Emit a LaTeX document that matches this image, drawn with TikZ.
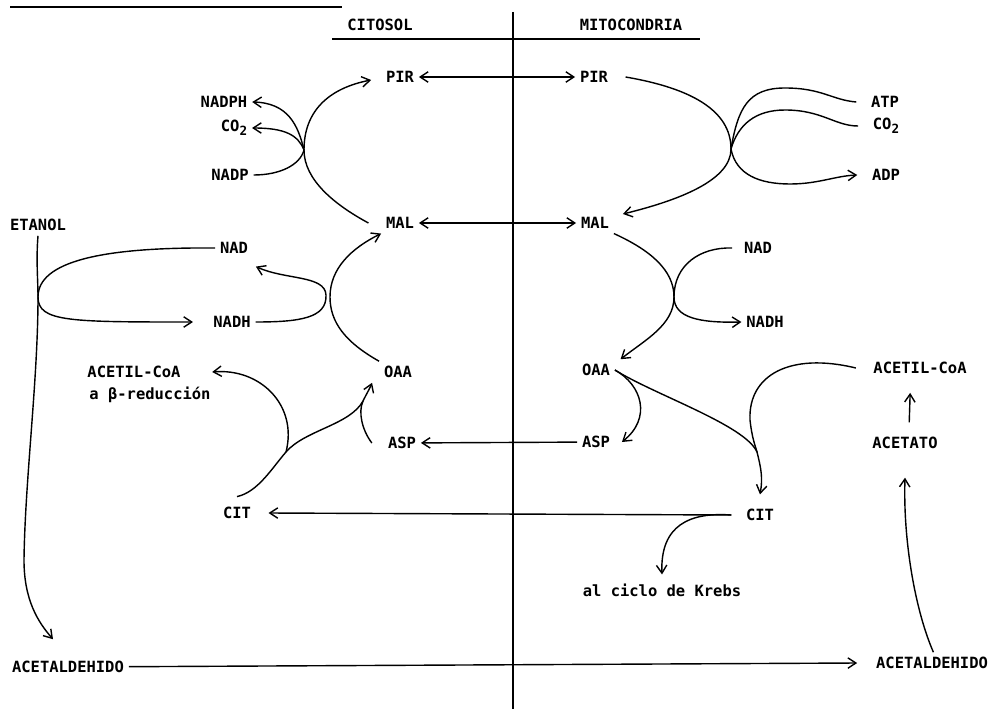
\documentclass[tikz,border=0pt]{standalone}
\usepackage{fontspec}
\setmonofont{DejaVu Sans Mono}
\usetikzlibrary{arrows.meta}
\newcommand{\cotwo}{CO\raisebox{-0.45ex}{\small 2}}

\begin{document}
\begin{tikzpicture}[x=0.025cm,y=-0.025cm,line width=1pt,
  >={Straight Barb[length=2mm,width=2.6mm]},
  every node/.style={font=\ttfamily\bfseries\fontsize{11}{13}\selectfont,inner sep=3pt}]
  \useasboundingbox (0,0) rectangle (992,709);
  % compartimentos
  \draw (10,7) -- (342,7);
  \draw (332,39) -- (700,39);
  \draw (513,12) -- (513,709);
  \node (citosol) at (380,25) {CITOSOL};
  \node (mito) at (631,25) {MITOCONDRIA};
  % metabolitos
  \node (pirC) at (400,77) {PIR};
  \node (pirM) at (594,77) {PIR};
  \node (nadphC) at (224,102) {NADPH};
  \node (co2C) at (234,128) {\cotwo};
  \node (nadpC) at (230,175) {NADP};
  \node (atpM) at (885,102) {ATP};
  \node (co2M) at (886,126) {\cotwo};
  \node (adpM) at (886,175) {ADP};
  \node (malC) at (400,223) {MAL};
  \node (malM) at (595,223) {MAL};
  \node (etanol) at (38,225) {ETANOL};
  \node (nadC) at (234,248) {NAD};
  \node (nadhC) at (232,322) {NADH};
  \node (nadM) at (758,248) {NAD};
  \node (nadhM) at (765,322) {NADH};
  \node (acetC) at (134,372) {ACETIL-CoA};
  \node (betaC) at (150,395) {a β-reducción};
  \node (oaaC) at (398,372) {OAA};
  \node (oaaM) at (596,370) {OAA};
  \node (acetM) at (920,368) {ACETIL-CoA};
  \node (aspC) at (402,443) {ASP};
  \node (aspM) at (596,442) {ASP};
  \node (acetato) at (905,443) {ACETATO};
  \node (citC) at (237,513) {CIT};
  \node (citM) at (760,515) {CIT};
  \node (krebs) at (662,590) {al ciclo de Krebs};
  \node (aldC) at (68,667) {ACETALDEHIDO};
  \node (aldM) at (932,663) {ACETALDEHIDO};
  % puntos de cruce
  \coordinate (xPM) at (304,150);
  \coordinate (xPE) at (731,149);
  \coordinate (xEt) at (38,297);
  \coordinate (xMD) at (674,297);
  \coordinate (xCi) at (286,452);
  \coordinate (xAs) at (363,401);
  \coordinate (xCs) at (757,452);
  % transporte
  \draw[<->] (pirC) -- (pirM);
  \draw[<->] (malC) -- (malM);
  \draw[->] (aspM) -- (aspC);
  \draw[->] ([xshift=-7pt]citM.west) -- ([xshift=9pt]citC.east);
  \draw[->] (aldC) -- ([xshift=-10pt]aldM.west);
  % enzima malica
  \draw[->] ([xshift=-9pt]malC.west) .. controls (335,205) and (304,180) .. (xPM)
    .. controls (304,110) and (330,88) .. ([shift={(-10,3)}]pirC.west);
  \draw (nadpC.east) .. controls (280,175) and (300,165) .. (xPM);
  \draw[->] (xPM) .. controls (298,125) and (288,103) .. (nadphC.east);
  \draw[->] (xPM) .. controls (298,135) and (285,128) .. (co2C.east);
  % piruvato carboxilasa
  \draw[->] ([xshift=9pt]pirM.east) .. controls (690,88) and (731,110) .. (xPE)
    .. controls (731,180) and (680,200) .. ([shift={(9,-9)}]malM.east);
  \draw (xPE) .. controls (738,108) and (748,88) .. (785,88)
    .. controls (822,88) and (832,100) .. ([xshift=-7pt]atpM.west);
  \draw (xPE) .. controls (738,125) and (755,110) .. (785,110)
    .. controls (822,110) and (835,126) .. ([xshift=-7pt]co2M.west);
  \draw[->] (xPE) .. controls (736,175) and (760,184) .. (790,184)
    .. controls (818,184) and (835,176) .. ([xshift=-7pt]adpM.west);
  % etanol
  \draw[->] (etanol.south) .. controls (36,260) and (38,280) .. (xEt)
    .. controls (38,380) and (25,480) .. (24,560)
    .. controls (24,600) and (38,622) .. ([shift={(-15,-17)}]aldC.north);
  \draw[->] (nadC.west) .. controls (100,247) and (38,262) .. (xEt)
    .. controls (38,322) and (70,322) .. ([xshift=-11pt]nadhC.west);
  \draw[->] (nadhC.east) .. controls (300,322) and (327,318) .. (326,295)
    .. controls (325,275) and (285,280) .. ([shift={(3,8)}]nadC.south east);
  \draw[->] (oaaC.north west) .. controls (345,342) and (330,322) .. (330,297)
    .. controls (330,268) and (352,248) .. (malC.south west);
  % citrato y aspartato (citosol)
  \draw[->] ([yshift=4pt]citC.north) .. controls (258,492) and (272,468) .. (xCi)
    .. controls (305,430) and (350,425) .. (xAs)
    .. controls (367,393) and (370,388) .. ([xshift=-5pt]oaaC.south west);
  \draw[->] (xCi) .. controls (298,405) and (260,368) .. ([xshift=19pt]acetC.east);
  \draw ([xshift=-8pt]aspC.west) .. controls (362,430) and (358,412) .. (xAs);
  % malato deshidrogenasa
  \draw[->] (malM.south east) .. controls (650,250) and (674,270) .. (xMD)
    .. controls (674,325) and (645,340) .. ([xshift=4pt]oaaM.north east);
  \draw[->] ([xshift=-5pt]nadM.west) .. controls (700,247) and (674,265) .. (xMD)
    .. controls (674,318) and (700,323) .. (nadhM.west);
  % citrato sintasa y aspartato (mitocondria)
  \draw[->] (oaaM.east) .. controls (642,385) and (652,418) .. ([xshift=5pt]aspM.east);
  \draw[->] (oaaM.east) .. controls (655,395) and (745,425) .. (xCs)
    .. controls (761,468) and (763,478) .. ([yshift=7pt]citM.north);
  \draw ([xshift=-9pt]acetM.west) .. controls (790,352) and (748,375) .. (750,420)
    .. controls (752,438) and (755,445) .. (xCs);
  \draw[->] ([xshift=-7pt]citM.west) .. controls (690,512) and (660,525) .. ([yshift=3pt]krebs.north);
  % acetato
  \draw[->] ([xshift=1pt]aldM.north) .. controls (915,610) and (903,540) .. ([yshift=-17pt]acetato.south);
  \draw[->] ([xshift=3pt,yshift=7pt]acetato.north) -- ([xshift=-7pt,yshift=-10pt]acetM.south);
\end{tikzpicture}
\end{document}
